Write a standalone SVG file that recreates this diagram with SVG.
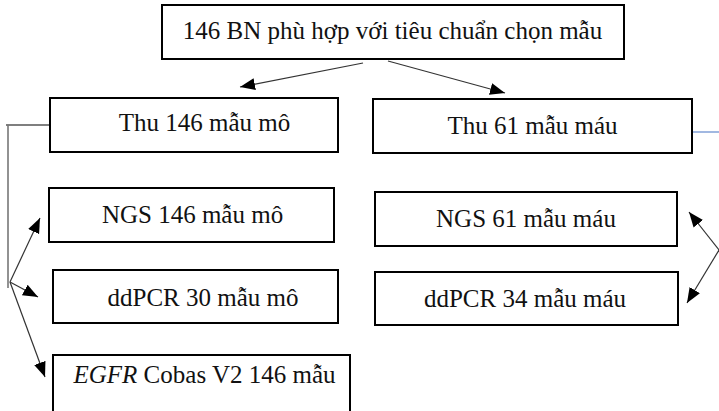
<svg xmlns="http://www.w3.org/2000/svg" width="719" height="411" viewBox="0 0 719 411">
  <style>
    .box { fill: #ffffff; stroke: #000000; stroke-width: 2; }
    .lbl { font-family: "Liberation Serif", "DejaVu Serif", serif; font-size: 25px; fill: #111111; text-anchor: middle; }
    .conA { fill: none; stroke: #333333; stroke-width: 1.2; marker-end: url(#arrow); }
  </style>
  <defs>
    <marker id="arrow" markerUnits="userSpaceOnUse" markerWidth="18" markerHeight="14" refX="15" refY="7" orient="auto">
      <path d="M0,1 L15,7 L0,13 Z" fill="#000000"/>
    </marker>
  </defs>
  <rect width="719" height="411" fill="#ffffff"/>

  <g id="connectors">
    <line class="conA" x1="363" y1="63" x2="240" y2="87"/>
    <line class="conA" x1="388" y1="61" x2="505" y2="93"/>
    <line x1="6" y1="125" x2="50" y2="125" stroke="#000000" stroke-width="1.2"/>
    <line x1="8" y1="125" x2="8" y2="288" stroke="#777777" stroke-width="1.6"/>
    <line class="conA" x1="10" y1="282" x2="40" y2="218"/>
    <line class="conA" x1="10" y1="282" x2="38" y2="297"/>
    <line class="conA" x1="10" y1="282" x2="45" y2="377"/>
    <line class="conA" x1="719" y1="250" x2="689" y2="212"/>
    <line class="conA" x1="719" y1="250" x2="687" y2="303"/>
    <line x1="676" y1="132" x2="719" y2="132" stroke="#4472c4" stroke-width="1.2"/>
  </g>

  <g id="patients">
    <rect class="box" x="162" y="5" width="462" height="54"/>
    <text class="lbl" x="392.5" y="39">146 BN phù hợp với tiêu chuẩn chọn mẫu</text>
  </g>
  <g id="tissue">
    <rect class="box" x="50" y="98" width="288" height="54"/>
    <text class="lbl" x="204.5" y="131">Thu 146 mẫu mô</text>
  </g>
  <g id="blood">
    <rect class="box" x="373" y="99" width="319" height="54"/>
    <text class="lbl" x="532.5" y="134">Thu 61 mẫu máu</text>
  </g>
  <g id="ngs-tissue">
    <rect class="box" x="49" y="188" width="285" height="54"/>
    <text class="lbl" x="192.5" y="223">NGS 146 mẫu mô</text>
  </g>
  <g id="ngs-blood">
    <rect class="box" x="375" y="192" width="302" height="54"/>
    <text class="lbl" x="526" y="227">NGS 61 mẫu máu</text>
  </g>
  <g id="ddpcr-tissue">
    <rect class="box" x="53" y="270" width="285" height="53"/>
    <text class="lbl" x="203" y="306">ddPCR 30 mẫu mô</text>
  </g>
  <g id="ddpcr-blood">
    <rect class="box" x="375" y="272" width="303" height="53"/>
    <text class="lbl" x="525" y="307">ddPCR 34 mẫu máu</text>
  </g>
  <g id="cobas">
    <rect class="box" x="53" y="355" width="297" height="62"/>
    <text class="lbl" x="204.5" y="383"><tspan font-style="italic">EGFR</tspan> Cobas V2 146 mẫu</text>
  </g>
</svg>
